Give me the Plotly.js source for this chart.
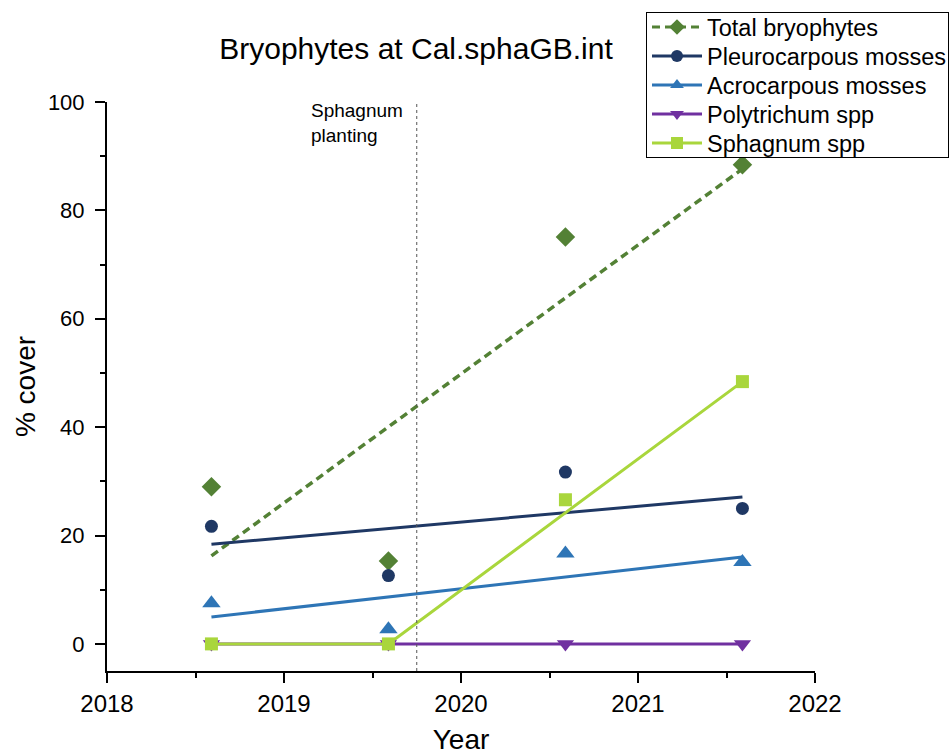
<!DOCTYPE html>
<html>
<head>
<meta charset="utf-8">
<script src="https://cdn.plot.ly/plotly-3.0.1.min.js"></script>
<style>html,body{margin:0;padding:0;background:#fff;}#chart{width:950px;height:755px;}</style>
</head>
<body>
<div id="chart"></div>
<script>
// ---- data ----
const years = [2018.59, 2019.59, 2020.59, 2021.59];
const totalBryophytes = [29.0, 15.3, 75.1, 88.4];
const pleurocarpous = [21.7, 12.6, 31.7, 25.0];
const acrocarpous = [7.5, 2.7, 16.7, 15.1];
const polytrichum = [0, 0, 0, 0];
const sphagnum = [0, 0, 26.6, 48.4];
const seriesNames = ["Total bryophytes", "Pleurocarpous mosses", "Acrocarpous mosses", "Polytrichum spp", "Sphagnum spp"];
const plantingYear = 2019.75;
const plantingLabel = "Sphagnum<br>planting";
const xTickVals = [2018, 2019, 2020, 2021, 2022];
const yTickVals = [0, 20, 40, 60, 80, 100];

// ---- styles ----
const colors = ["#538135", "#1f3864", "#2e75b6", "#7030a0", "#a9d63c"];
const symbols = ["diamond", "circle", "triangle-up", "triangle-down", "square"];
const markerSizes = [15, 13, 16, 15, 13];
const FONT = "Liberation Sans, Arial, sans-serif";

function linFit(x, y) {
  const n = x.length;
  const mx = x.reduce((a, b) => a + b, 0) / n;
  const my = y.reduce((a, b) => a + b, 0) / n;
  let sxy = 0, sxx = 0;
  for (let i = 0; i < n; i++) { sxy += (x[i] - mx) * (y[i] - my); sxx += (x[i] - mx) ** 2; }
  const b = sxy / sxx, a = my - b * mx;
  return [x[0], x[n - 1]].map(v => a + b * v);
}

const traces = [];
const endX = [years[0], years[years.length - 1]];
// fitted lines
traces.push({x: endX, y: linFit(years, totalBryophytes), mode: "lines", line: {color: colors[0], width: 3.5, dash: "8px,5px"}, showlegend: false, hoverinfo: "skip"});
traces.push({x: endX, y: linFit(years, pleurocarpous), mode: "lines", line: {color: colors[1], width: 3}, showlegend: false, hoverinfo: "skip"});
traces.push({x: endX, y: linFit(years, acrocarpous), mode: "lines", line: {color: colors[2], width: 3}, showlegend: false, hoverinfo: "skip"});
traces.push({x: endX, y: linFit(years, polytrichum), mode: "lines", line: {color: colors[3], width: 3}, showlegend: false, hoverinfo: "skip"});
traces.push({x: [years[0], years[1], years[3]], y: [sphagnum[0], sphagnum[1], sphagnum[3]], mode: "lines", line: {color: colors[4], width: 3}, showlegend: false, hoverinfo: "skip"});

// data markers
const allSeries = [totalBryophytes, pleurocarpous, acrocarpous, polytrichum, sphagnum];
allSeries.forEach((s, i) => {
  traces.push({x: years, y: s, mode: "markers", marker: {color: colors[i], symbol: symbols[i], size: markerSizes[i]}, showlegend: false, name: seriesNames[i]});
});
// legend entries
allSeries.forEach((s, i) => {
  traces.push({x: [null], y: [null], mode: "lines+markers", name: seriesNames[i],
    line: {color: colors[i], width: 3, dash: i === 0 ? "8px,5px" : "solid"},
    marker: {color: colors[i], symbol: symbols[i], size: 12}});
});

const layout = {
  width: 950, height: 755,
  paper_bgcolor: "#fff", plot_bgcolor: "#fff",
  font: {family: FONT, color: "#000", size: 22},
  margin: {l: 107, r: 135, t: 102, b: 84, autoexpand: false},
  title: {text: "Bryophytes at Cal.sphaGB.int", font: {size: 30, family: FONT, color: "#000"},
    x: (416 - 107) / 708, xref: "paper", xanchor: "center", y: 1 - 48 / 755, yref: "container", yanchor: "middle"},
  xaxis: {range: [2018, 2022], tickvals: xTickVals, ticktext: xTickVals.map(String), showgrid: false, zeroline: false,
    showline: true, linecolor: "#000", linewidth: 2, ticks: "outside", ticklen: 10, tickwidth: 2, tickcolor: "#000",
    tickfont: {size: 24}, minor: {dtick: 0.5, tick0: 2018, ticks: "outside", ticklen: 5, tickwidth: 2, tickcolor: "#000", showgrid: false},
    title: {text: "Year", font: {size: 28}}, automargin: false, fixedrange: true},
  yaxis: {range: [-5, 100], tickvals: yTickVals, ticktext: yTickVals.map(String), showgrid: false, zeroline: false,
    showline: true, linecolor: "#000", linewidth: 2, ticks: "outside", ticklen: 10, tickwidth: 2, tickcolor: "#000",
    tickfont: {size: 22}, ticklabelstandoff: 6,
    minor: {dtick: 10, tick0: 0, ticks: "outside", ticklen: 5, tickwidth: 2, tickcolor: "#000", showgrid: false},
    title: {text: "% cover", font: {size: 28}}, automargin: false, fixedrange: true},
  legend: {x: (646 - 107) / 708, xanchor: "left", y: (671 - 19) / 569, yanchor: "top", xref: "paper", yref: "paper",
    bgcolor: "#fff", bordercolor: "#000", borderwidth: 1, font: {size: 23.5}, itemwidth: 50, tracegroupgap: 0},
  shapes: [{type: "line", xref: "x", yref: "paper", x0: plantingYear, x1: plantingYear, y0: 0, y1: 1,
    line: {color: "#555", width: 1, dash: "dot"}}],
  annotations: [{x: plantingYear, y: 100, xref: "x", yref: "y", xanchor: "right", yanchor: "top", xshift: -12, yshift: 4,
    text: plantingLabel, showarrow: false, align: "left", font: {size: 19, color: "#000"}}]
};

// legend box geometry (pixels): tighter row spacing than Plotly's default
const LEGEND_BOX = {left: 646, top: 12, width: 302, height: 145, rowStart: 15, rowStep: 29};
// wanted centres of the axis titles (pixels)
const XTITLE_CY = 739, YTITLE_CX = 25;

Plotly.newPlot("chart", traces, layout, {staticPlot: true, displayModeBar: false}).then(gd => {
  const leg = gd.querySelector("g.legend");
  if (leg) {
    leg.setAttribute("transform", `translate(${LEGEND_BOX.left},${LEGEND_BOX.top})`);
    const bg = leg.querySelector("rect.bg");
    if (bg) { bg.setAttribute("height", LEGEND_BOX.height); bg.setAttribute("width", LEGEND_BOX.width); bg.setAttribute("y", 0); }
    leg.querySelectorAll("g.traces").forEach((g, i) => {
      g.setAttribute("transform", `translate(1,${LEGEND_BOX.rowStart + i * LEGEND_BOX.rowStep})`);
    });
    const sb = leg.querySelector("g.scrollbox");
    if (sb) sb.setAttribute("transform", "translate(0,0)");
  }
  gd.querySelectorAll("defs clipPath[id*='legend'] rect").forEach(r => { r.setAttribute("height", LEGEND_BOX.height); r.setAttribute("width", LEGEND_BOX.width); });
  const svgTop = gd.querySelector("svg.main-svg").getBoundingClientRect();
  const gx = gd.querySelector("g.g-xtitle");
  if (gx) {
    const b = gx.getBoundingClientRect();
    const dy = XTITLE_CY - ((b.top + b.bottom) / 2 - svgTop.top);
    gx.setAttribute("transform", `${gx.getAttribute("transform") || ""} translate(0,${dy})`);
  }
  const gy = gd.querySelector("g.g-ytitle");
  if (gy) {
    const b = gy.getBoundingClientRect();
    const dx = YTITLE_CX - ((b.left + b.right) / 2 - svgTop.left);
    gy.setAttribute("transform", `${gy.getAttribute("transform") || ""} translate(${dx},0)`);
  }
});
</script>
</body>
</html>
